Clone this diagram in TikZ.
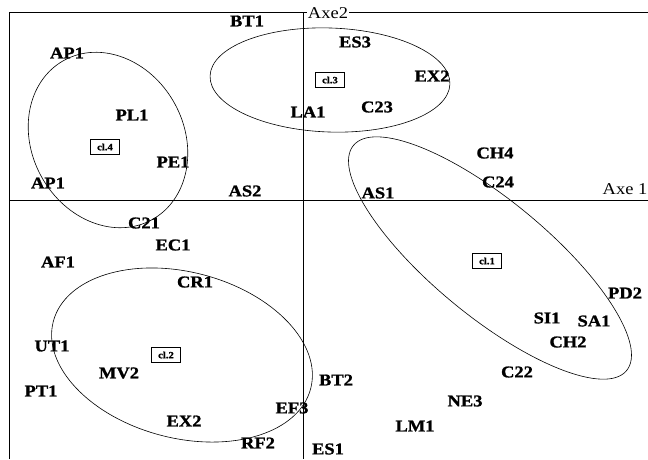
\documentclass[tikz,border=0pt]{standalone}
\usepackage{fontspec}
\newfontfamily\plotfont{Liberation Serif}[FakeStretch=1.12]
\newfontfamily\plotfontbold{Liberation Serif Bold}[FakeStretch=1.12, FakeBold=1.2]
\usetikzlibrary{shapes.geometric}

\begin{document}
\begin{tikzpicture}[x=1pt, y=-1pt,
  var/.style={font=\plotfontbold\fontsize{16.5}{18}\selectfont, inner sep=0pt},
  axlabel/.style={font=\plotfont\fontsize{16.5}{18}\selectfont, inner sep=1pt},
  clbox/.style={draw, line width=1pt, font=\plotfontbold\fontsize{9.5}{10}\selectfont,
    minimum width=29pt, minimum height=15pt, inner sep=1pt},
  group/.style={draw, ellipse, inner sep=0pt, outer sep=0pt, line width=0.6pt}]
\useasboundingbox (0,0) rectangle (648,459);

%% FRAME AND AXES
\coordinate (frame_bl) at (9,459);
\coordinate (frame_tl) at (9,12);
\coordinate (frame_tr) at (648,12);
\coordinate (axe1_w) at (9,200);
\coordinate (axe1_e) at (648,200);
\coordinate (axe2_n) at (303,12);
\coordinate (axe2_s) at (303,459);

\draw (frame_bl) -- (frame_tl) -- (frame_tr);
\draw (axe1_w) -- (axe1_e);
\draw (axe2_n) -- (axe2_s);

\node[axlabel, fill=white](axe2) at (328,13){Axe2};
\node[axlabel](axe1) at (625,189){Axe 1};

%% CLASSES
\node[group, minimum width=354pt, minimum height=116pt, rotate=-39.5](group_cl1) at (490,258){};
\node[group, minimum width=266pt, minimum height=166pt, rotate=-14.6](group_cl2) at (182,355){};
\node[group, minimum width=240pt, minimum height=104pt, rotate=-2](group_cl3) at (330,80){};
\node[group, minimum width=182pt, minimum height=152pt, rotate=-61](group_cl4) at (108,140){};

\node[clbox](box_cl1) at (487,261){cl.1};
\node[clbox](box_cl2) at (166,355){cl.2};
\node[clbox](box_cl3) at (330,80){cl.3};
\node[clbox](box_cl4) at (105,147){cl.4};

%% MODALITIES
% upper half
\node[var](BT1) at (247,21){BT1};
\node[var](ES3) at (355,42){ES3};
\node[var](EX2_top) at (432,76){EX2};
\node[var](LA1) at (308,112){LA1};
\node[var](C23) at (377,107){C23};
\node[var](AP1_top) at (67,53){AP1};
\node[var](PL1) at (132,115){PL1};
\node[var](PE1) at (173,162){PE1};
\node[var](AP1_left) at (48,183){AP1};
\node[var](AS2) at (245,191){AS2};
\node[var](AS1) at (378,193){AS1};
\node[var](CH4) at (495,153){CH4};
\node[var](C24) at (498,182){C24};

% lower half
\node[var](C21) at (144,223){C21};
\node[var](EC1) at (173,245){EC1};
\node[var](AF1) at (58,262){AF1};
\node[var](CR1) at (195,282){CR1};
\node[var](UT1) at (52,346){UT1};
\node[var](MV2) at (119,373){MV2};
\node[var](PT1) at (41,391){PT1};
\node[var](EX2_bot) at (184,421){EX2};
\node[var](EF3) at (292,408){EF3};
\node[var](RF2) at (258,443){RF2};
\node[var](BT2) at (336,380){BT2};
\node[var](ES1) at (328,449){ES1};
\node[var](PD2) at (625,293){PD2};
\node[var](SI1) at (547,318){SI1};
\node[var](SA1) at (594,321){SA1};
\node[var](CH2) at (568,342){CH2};
\node[var](C22) at (517,372){C22};
\node[var](NE3) at (465,401){NE3};
\node[var](LM1) at (415,426){LM1};

\end{tikzpicture}
\end{document}
